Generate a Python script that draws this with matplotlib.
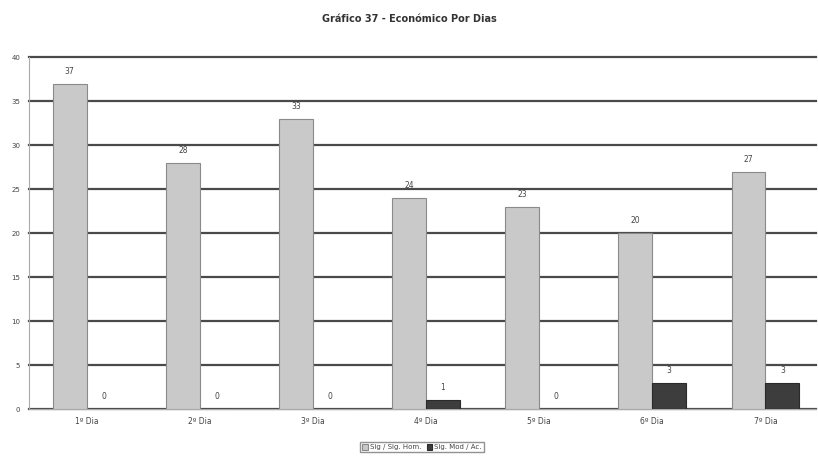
import matplotlib
matplotlib.use("Agg")
import matplotlib.pyplot as plt
import numpy as np

categories = ["1º Dia", "2º Dia", "3º Dia", "4º Dia", "5º Dia", "6º Dia", "7º Dia"]
series1_name = "Sig / Sig. Hom."
series2_name = "Sig. Mod / Ac."
series1 = [37, 28, 33, 24, 23, 20, 27]
series2 = [0, 0, 0, 1, 0, 3, 3]
yticks = [0, 5, 10, 15, 20, 25, 30, 35, 40]
title = "Gráfico 37 - Económico Por Dias"

fig = plt.figure(figsize=(8.18, 4.65), dpi=100)
ax = fig.add_axes([0.035, 0.1204, 0.963, 0.7566])

x = np.arange(len(categories))
w = 0.3
c1, c2 = "#c9c9c9", "#3d3d3d"
b1 = ax.bar(x - w / 2, series1, w, color=c1, edgecolor="#8a8a8a", linewidth=0.8, zorder=3, label=series1_name)
b2 = ax.bar(x + w / 2, series2, w, color=c2, edgecolor="#2a2a2a", linewidth=0.8, zorder=3, label=series2_name)

for xi, v in zip(x - w / 2, series1):
    ax.text(xi, v + 0.9, str(v), ha="center", va="bottom", fontsize=5.5, color="#444444")
for xi, v in zip(x + w / 2, series2):
    ax.text(xi, v + 0.9, str(v), ha="center", va="bottom", fontsize=5.5, color="#444444")

ax.set_ylim(0, 40)
ax.set_xlim(-0.513, 6.45)
ax.set_yticks(yticks)
ax.set_yticklabels([str(t) for t in yticks], fontsize=5, color="#444444")
ax.set_xticks(x)
ax.set_xticklabels(categories, fontsize=5.5, color="#444444")
ax.tick_params(axis="both", length=0, pad=6)
ax.yaxis.grid(True, color="#4a4a4a", linewidth=1.6, zorder=0)
ax.set_axisbelow(True)
for gl in ax.get_ygridlines():
    gl.set_clip_on(False)
for s in ["top", "right"]:
    ax.spines[s].set_visible(False)
ax.spines["left"].set_color("#aaaaaa")
ax.spines["bottom"].set_color("#aaaaaa")

fig.text(0.5, 0.96, title, ha="center", va="center", fontsize=7, fontweight="bold", color="#333333")

leg = fig.legend(handles=[b1, b2], loc="center", bbox_to_anchor=(0.516, 0.038), ncol=2,
                 fontsize=5, frameon=True, fancybox=False, edgecolor="#777777",
                 handlelength=0.8, handleheight=0.8, handletextpad=0.3, columnspacing=0.8,
                 borderpad=0.3)
for t in leg.get_texts():
    t.set_color("#444444")

fig.savefig("out.png", dpi=100)
